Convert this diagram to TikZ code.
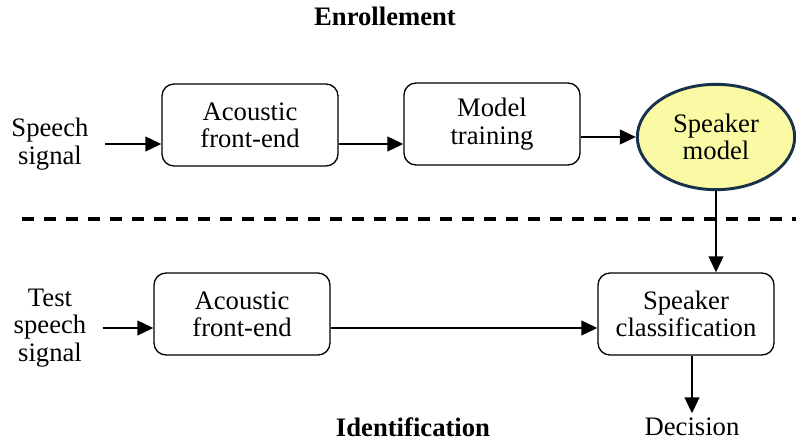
\documentclass[tikz,border=0pt]{standalone}
\usepackage{fontspec}
\setmainfont{Liberation Serif}
\usepackage{xcolor}
\usetikzlibrary{arrows.meta,shapes.geometric}

\definecolor{smfill}{RGB}{250,250,165}
\definecolor{smedge}{RGB}{25,50,75}

\tikzset{
  block/.style={draw, rounded corners=9pt, line width=1pt, align=center,
    minimum width=132pt, minimum height=61.5pt, inner sep=0pt},
  lbl/.style={align=center, inner xsep=12pt},
  arr/.style={line width=1.6pt, -{Triangle[length=12pt,width=11pt]}},
}

\begin{document}
\begin{tikzpicture}[x=0.75pt,y=0.75pt,yscale=-1,xscale=1,
    font=\fontsize{20}{20.5}\selectfont]
        \useasboundingbox (0,0) rectangle (796,441);

        % headings
        \node [font=\fontsize{20}{20.5}\selectfont\bfseries] (enr) at (385,16) {Enrollement};
        \node [font=\fontsize{20}{20.5}\selectfont\bfseries] (idn) at (413,427) {Identification};

        % enrollment row
        \node [lbl] (speech) at (50,144) {Speech\\signal};
        \node [block] (af1) at (250,125) {Acoustic\\front-end};
        \node [block] (mt) at (492,124) {Model\\training};
        \node [ellipse, draw=smedge, fill=smfill, line width=2.2pt, align=center,
          minimum width=118pt, minimum height=79pt, inner sep=0pt] (sm) at (716,137) {Speaker\\model};

        % separator
        \draw [line width=2.4pt, dash pattern=on 9pt off 7.5pt] (22,219) -- (796,219);

        % identification row
        \node [lbl] (test) at (50,328) {Test\\speech\\signal};
        \node [block] (af2) at (242,314) {Acoustic\\front-end};
        \node [block] (sc) at (686,314) {Speaker\\classification};
        \node (dec) at (692,427) {Decision};

        \draw [arr] (speech.east) -- (speech.east -| af1.west);
        \draw [arr] (af1.east |- speech.east) -- (mt.west |- speech.east);
        \draw [arr] (mt.east |- sm.west) -- (sm.west);
        \draw [arr] (sm.south) -- (sc.north -| sm.south);
        \draw [arr] (test.east) -- (test.east -| af2.west);
        \draw [arr] (af2.east |- test.east) -- (sc.west |- test.east);
        \draw [arr] (sc.south -| dec.north) -- (dec.north);
\end{tikzpicture}
\end{document}
